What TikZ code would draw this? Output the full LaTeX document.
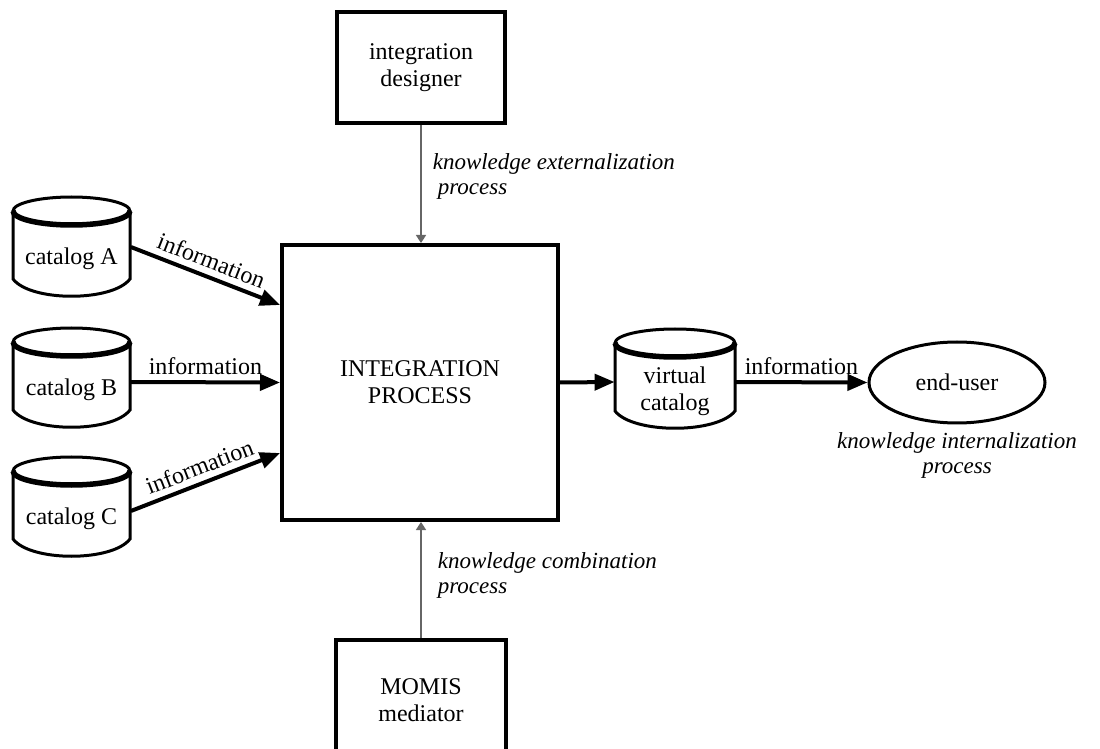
\documentclass[tikz,border=0pt]{standalone}
\usepackage{fontspec}
\setmainfont{Liberation Serif}
\usetikzlibrary{arrows.meta,shapes.geometric,positioning}
\begin{document}
\begin{tikzpicture}[>={Triangle[length=10pt,width=8pt]},x=0.5pt,y=-0.5pt,
	font=\fontsize{12}{13.5}\selectfont,
	box/.style={draw,line width=2pt,align=center,inner sep=0pt},
	cyltext/.style={minimum width=59pt,inner sep=0pt,align=center},
	cylline/.style={line width=1.5pt},
	flow/.style={->,line width=2pt},
	lbl/.style={inner sep=3pt},
	know/.style={-{Triangle[length=4pt,width=5pt]},line width=0.8pt,black!60},
	note/.style={font=\fontsize{11.5}{12.5}\selectfont\itshape,align=left,inner sep=0pt,text=black}]
		\useasboundingbox (0,0) rectangle (1100,749);
		\clip (0,0) rectangle (1100,749);
		% boxes
		\node[box,minimum width=84pt,minimum height=55.5pt] (designer) at (421,67.5) {integration\\designer};
		\node[box,minimum width=138pt,minimum height=137.5pt] (intproc) at (420,382.5) {INTEGRATION\\PROCESS};
		\node[box,minimum width=85pt,minimum height=60pt] (momis) at (421,700) {MOMIS\\mediator};
		% catalogs
		\node[cyltext] (catA) at (71.5,259) {catalog A};
		\node[cyltext] (catB) at (71.5,390) {catalog B};
		\node[cyltext] (catC) at (71.5,519) {catalog C};
		\node[cyltext,minimum width=60pt] (virt) at (675,391) {virtual\\catalog};
		\node[draw,ellipse,line width=1.5pt,minimum width=88pt,minimum height=40.5pt,inner sep=0pt] (user) at (957,382.5) {end-user};
		\node[note,align=center,below=4pt of user] (intern) {knowledge internalization\\process};
		\foreach \c/\w in {catA/58.5,catB/58.5,catC/58.5,virt/60}{
			\draw[cylline,shift={(\c.center)}] (-\w,-48) -- (-\w,20) .. controls (-0.7*\w,43) and (0.7*\w,43) .. (\w,20) -- (\w,-48);
			\draw[cylline,shift={(\c.center)}] (0,-48) ellipse [x radius=\w,y radius=14];
			\draw[line width=2.75pt,shift={(\c.center)}] (-\w,-48) arc [start angle=180,end angle=0,x radius=\w,y radius=14];
		}
		% information flows
		\draw[flow] ([yshift=6pt]catA.east) -- node[lbl,midway,sloped,above]{information} ([yshift=38.75pt]intproc.west);
		\draw[flow] ([yshift=4pt]catB.east) -- node[lbl,midway,above]{information} (intproc.west);
		\draw[flow] ([yshift=4pt]catC.east) -- node[lbl,midway,sloped,above]{information} ([yshift=-35.25pt]intproc.west);
		\draw[flow] (intproc.east) -- ([yshift=4.5pt]virt.west);
		\draw[flow] ([yshift=4.5pt]virt.east) -- node[lbl,midway,above]{information} (user.west);
		% knowledge processes
		\draw[know] (designer.south) -- node[note,pos=0.44,right=5.5pt]{knowledge externalization\\\hspace*{2.5pt}process} (designer.south |- intproc.north);
		\draw[know] (momis.north) -- node[note,pos=0.54,right=8pt]{knowledge combination\\process} (momis.north |- intproc.south);
\end{tikzpicture}
\end{document}
